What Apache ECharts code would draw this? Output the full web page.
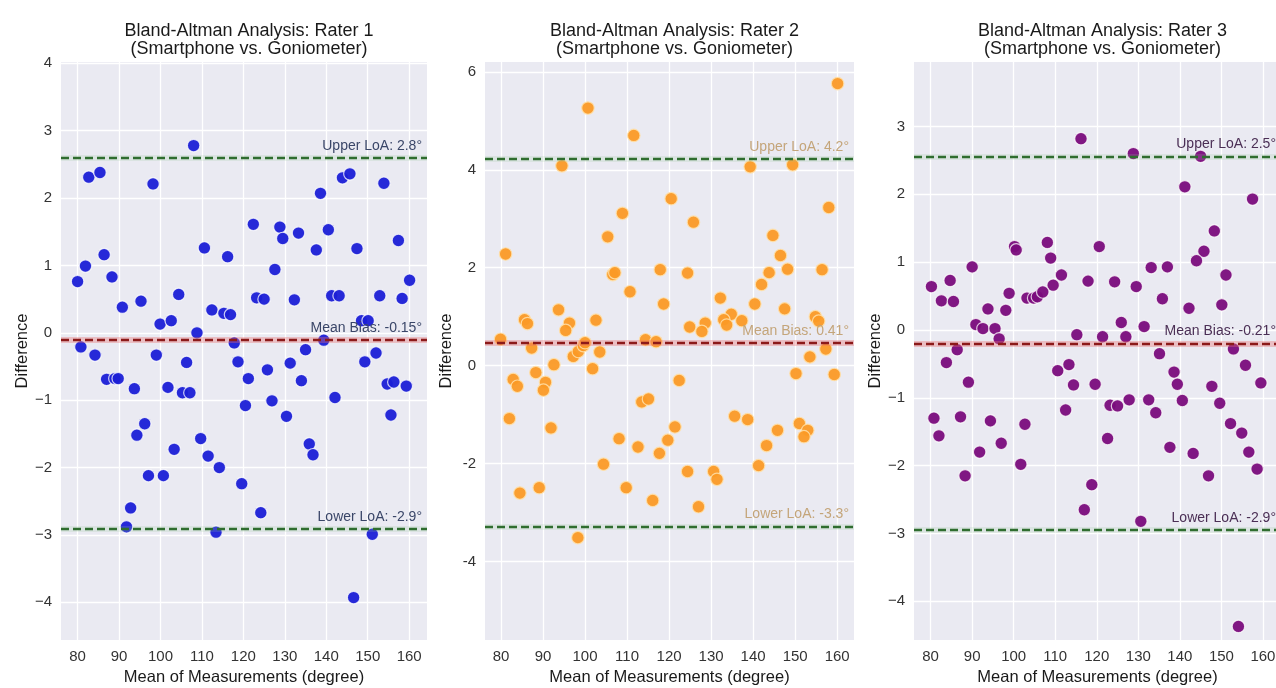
<!DOCTYPE html>
<html>
<head>
<meta charset="utf-8">
<script src="https://cdn.jsdelivr.net/npm/echarts@6/dist/echarts.min.js"></script>
<style>
html,body{margin:0;padding:0;background:#fff;}
#chart{width:1276px;height:688px;}
</style>
</head>
<body>
<div id="chart"></div>
<script>
// ---------- DATA ----------
const xTicks = [80, 90, 100, 110, 120, 130, 140, 150, 160];
const yTicks1 = [-4, -3, -2, -1, 0, 1, 2, 3, 4];
const yTicks2 = [-4, -2, 0, 2, 4, 6];
const yTicks3 = [-4, -3, -2, -1, 0, 1, 2, 3];

const titles = [
  'Bland-Altman Analysis: Rater 1\n(Smartphone vs. Goniometer)',
  'Bland-Altman Analysis: Rater 2\n(Smartphone vs. Goniometer)',
  'Bland-Altman Analysis: Rater 3\n(Smartphone vs. Goniometer)'
];

// [mean, difference]
const rater1Points = [
  [80.0,0.76],[81.9,0.99],[82.7,2.31],[85.4,2.38],[86.4,1.16],[88.3,0.83],[90.8,0.38],[95.3,0.47],
  [98.2,2.21],[99.9,0.13],[102.6,0.18],[104.4,0.57],[108.0,2.78],[108.8,0.0],[110.6,1.26],[112.4,0.34],
  [115.3,0.29],[116.9,0.27],[116.2,1.13],[122.4,1.61],[123.2,0.52],[125.0,0.50],[127.6,0.94],[128.8,1.57],
  [129.5,1.40],[132.3,0.49],[133.3,1.48],[137.6,1.23],[138.6,2.07],[140.5,1.53],[141.3,0.55],[143.1,0.55],
  [143.9,2.30],[145.7,2.36],[147.4,1.25],[148.5,0.18],[150.1,0.18],[152.9,0.55],[153.9,2.22],[157.4,1.37],
  [158.3,0.51],[160.1,0.78],
  [80.8,-0.21],[84.2,-0.33],[87.0,-0.69],[89.0,-0.68],[89.8,-0.68],[93.7,-0.83],[94.3,-1.52],[96.2,-1.35],
  [97.1,-2.12],[92.8,-2.60],[91.8,-2.88],[99.0,-0.33],[100.7,-2.12],[101.8,-0.81],[103.3,-1.73],[106.3,-0.44],
  [105.3,-0.89],[107.1,-0.89],[109.7,-1.57],[111.5,-1.83],[113.4,-2.96],[114.2,-2.00],[117.8,-0.15],[118.7,-0.43],
  [121.2,-0.68],[119.6,-2.24],[120.5,-1.08],[124.2,-2.67],[125.8,-0.55],[126.9,-1.01],[130.4,-1.24],[131.3,-0.45],
  [134.0,-0.71],[135.0,-0.25],[135.9,-1.65],[136.8,-1.81],[139.4,-0.11],[142.1,-0.96],[146.6,-3.93],[149.3,-0.43],
  [152.0,-0.30],[151.1,-2.99],[154.7,-0.76],[156.3,-0.73],[155.6,-1.22],[159.3,-0.79]
];

const rater2Points = [
  [160.1,5.76],[100.7,5.26],[111.6,4.70],[94.5,4.08],[139.3,4.06],[149.4,4.10],[120.5,3.41],[108.9,3.11],
  [158.0,3.23],[125.8,2.93],[105.4,2.63],[144.7,2.66],[81.1,2.28],[146.5,2.25],[117.9,1.96],[124.4,1.89],
  [148.2,1.97],[156.4,1.96],[143.8,1.90],[106.6,1.86],[107.1,1.90],[142.0,1.66],[110.7,1.51],[132.2,1.38],
  [118.7,1.26],[140.4,1.26],[93.7,1.14],[147.5,1.16],[85.6,0.94],[86.3,0.86],[102.6,0.93],[96.3,0.87],
  [95.4,0.72],[134.8,1.05],[133.0,0.94],[133.7,0.83],[137.3,0.92],[124.9,0.79],[128.6,0.87],[127.8,0.70],
  [154.8,1.00],[155.6,0.91],[79.9,0.54],[87.3,0.36],[88.3,-0.14],[92.6,0.02],[97.2,0.19],[98.4,0.29],
  [99.6,0.41],[100.0,0.47],[103.5,0.28],[101.8,-0.06],[114.4,0.53],[116.9,0.49],[82.9,-0.28],[83.9,-0.42],
  [90.6,-0.34],[90.1,-0.50],[122.4,-0.30],[153.5,0.18],[157.3,0.34],[150.2,-0.16],[159.3,-0.18],[113.5,-0.74],
  [115.1,-0.68],
  [82.0,-1.08],[84.5,-2.60],[89.1,-2.49],[91.9,-1.27],[98.3,-3.51],[104.4,-2.01],[108.1,-1.49],[109.8,-2.49],
  [112.6,-1.66],[116.1,-2.75],[117.7,-1.79],[119.7,-1.52],[121.4,-1.25],[124.4,-2.16],[127.0,-2.88],[130.6,-2.16],
  [131.4,-2.32],[135.6,-1.03],[138.7,-1.10],[141.3,-2.04],[143.2,-1.63],[145.8,-1.32],[151.0,-1.18],[153.0,-1.32],
  [152.1,-1.45]
];

const rater3Points = [
  [116.2,2.82],[128.8,2.60],[145.0,2.56],[141.2,2.11],[157.5,1.93],[148.3,1.46],[145.8,1.16],[144.0,1.02],
  [120.6,1.23],[100.2,1.23],[100.6,1.18],[108.1,1.29],[108.9,1.06],[111.5,0.81],[109.5,0.66],[117.9,0.72],
  [124.3,0.71],[129.5,0.64],[133.1,0.92],[137.0,0.93],[151.1,0.81],[135.8,0.46],[142.2,0.32],[150.1,0.37],
  [90.0,0.93],[84.7,0.73],[80.2,0.64],[82.6,0.43],[85.5,0.42],[93.8,0.31],[98.1,0.29],[98.9,0.54],
  [103.2,0.47],[104.8,0.47],[105.7,0.49],[107.0,0.56],[90.9,0.08],[92.6,0.02],[95.5,0.02],[96.5,-0.13],
  [125.9,0.11],[131.4,0.05],[115.2,-0.07],[121.4,-0.10],[127.0,-0.10],
  [86.4,-0.29],[83.8,-0.48],[89.1,-0.77],[152.9,-0.28],[155.8,-0.52],[135.1,-0.35],[138.6,-0.62],[139.4,-0.80],
  [147.7,-0.83],[159.5,-0.78],[110.6,-0.60],[113.3,-0.51],[114.4,-0.81],[119.6,-0.80],
  [80.8,-1.30],[82.0,-1.56],[87.2,-1.28],[88.3,-2.15],[91.8,-1.80],[94.4,-1.34],[97.0,-1.67],[101.7,-1.98],
  [102.7,-1.39],[112.5,-1.18],[117.0,-2.65],[118.8,-2.28],[122.6,-1.60],[123.2,-1.11],[125.0,-1.12],[127.8,-1.03],
  [130.6,-2.82],[132.5,-1.03],[134.2,-1.22],[137.6,-1.73],[140.6,-1.04],[143.2,-1.82],[146.9,-2.15],[149.6,-1.08],
  [152.2,-1.38],[154.9,-1.52],[156.6,-1.80],[158.6,-2.05],[154.1,-4.37]
];

// line positions (upper LoA, mean bias, lower LoA) and their labels
const rater1Lines = [2.6, -0.11, -2.91];
const rater2Lines = [4.22, 0.47, -3.28];
const rater3Lines = [2.56, -0.2, -2.95];
const rater1Labels = ['Upper LoA: 2.8°', 'Mean Bias: -0.15°', 'Lower LoA: -2.9°'];
const rater2Labels = ['Upper LoA: 4.2°', 'Mean Bias: 0.41°', 'Lower LoA: -3.3°'];
const rater3Labels = ['Upper LoA: 2.5°', 'Mean Bias: -0.21°', 'Lower LoA: -2.9°'];

// ---------- LAYOUT / STYLE ----------
const FONT = '"Liberation Sans", Arial, sans-serif';
const panels = [
  {grid:{left:61, width:366}, xr:[76, 164.3], yr:[-4.56, 4.02], yTicks:yTicks1, minus:'\u2212',
   points:rater1Points, lines:rater1Lines, labels:rater1Labels,
   color:'#1b1fd6', border:'rgba(255,255,255,0.8)', labelColor:'#3a4668'},
  {grid:{left:485, width:369}, xr:[76.2, 164], yr:[-5.6, 6.2], yTicks:yTicks2, minus:'-',
   points:rater2Points, lines:rater2Lines, labels:rater2Labels,
   color:'#fb9a26', border:'rgba(255,225,170,0.9)', labelColor:'#c4a57a'},
  {grid:{left:914, width:367}, xr:[76, 164.35], yr:[-4.57, 3.95], yTicks:yTicks3, minus:'\u2212',
   points:rater3Points, lines:rater3Lines, labels:rater3Labels,
   color:'#7a0c7c', border:'rgba(255,255,255,0.8)', labelColor:'#4b2f55'}
];

const option = {
  backgroundColor: '#ffffff',
  animation: false,
  title: [], grid: [], xAxis: [], yAxis: [], series: []
};

panels.forEach((p, i) => {
  option.title.push({
    text: titles[i],
    left: p.grid.left + p.grid.width / 2,
    top: 17,
    textAlign: 'center',
    textStyle: {fontFamily: FONT, fontSize: 18, fontWeight: 'normal', color: '#1a1a1a', lineHeight: 18}
  });
  option.grid.push({
    left: p.grid.left, width: p.grid.width, top: 62, height: 578,
    outerBoundsMode: 'none',
    show: true, backgroundColor: '#eaeaf2', borderWidth: 0, containLabel: false
  });
  option.xAxis.push({
    type: 'value', gridIndex: i, min: p.xr[0], max: p.xr[1],
    name: 'Mean of Measurements (degree)', nameLocation: 'middle', nameGap: 29,
    nameTextStyle: {fontFamily: FONT, fontSize: 16.5, color: '#1a1a1a'},
    axisLine: {show: false},
    axisTick: {show: false, customValues: xTicks},
    axisLabel: {customValues: xTicks, fontFamily: FONT, fontSize: 15, color: '#333', margin: 9},
    splitLine: {show: true, lineStyle: {color: '#ffffff', width: 1.3}}
  });
  option.yAxis.push({
    type: 'value', gridIndex: i, min: p.yr[0], max: p.yr[1],
    name: 'Difference', nameLocation: 'middle', nameGap: 30,
    nameTextStyle: {fontFamily: FONT, fontSize: 16.5, color: '#1a1a1a'},
    axisLine: {show: false},
    axisTick: {show: false, customValues: p.yTicks},
    axisLabel: {customValues: p.yTicks, fontFamily: FONT, fontSize: 15, color: '#333', margin: 9,
      formatter: v => (v < 0 ? p.minus + Math.abs(v) : String(v))},
    splitLine: {show: true, lineStyle: {color: '#ffffff', width: 1.3}}
  });

  const lineColors = ['#2f6d2f', '#8c1a1a', '#2f6d2f'];
  const haloColors = ['rgba(150,200,150,0.18)', 'rgba(235,110,110,0.35)', 'rgba(150,200,150,0.18)'];
  const mlData = [];
  p.lines.forEach((v, k) => {
    mlData.push({yAxis: v, lineStyle: {color: haloColors[k], width: 6, type: 'solid'}, label: {show: false}});
  });
  p.lines.forEach((v, k) => {
    mlData.push({
      yAxis: v,
      lineStyle: {color: lineColors[k], width: 2.4, type: [8, 4]},
      label: {show: true, position: 'insideEndTop', formatter: p.labels[k], distance: 5,
        fontFamily: FONT, fontSize: 14, color: p.labelColor}
    });
  });

  option.series.push({
    type: 'scatter', xAxisIndex: i, yAxisIndex: i,
    data: p.points, symbolSize: 12.5,
    itemStyle: {color: p.color, borderColor: p.border, borderWidth: 1.2, opacity: 0.95},
    markLine: {silent: true, symbol: ['none', 'none'], animation: false, data: mlData},
    z: 3
  });
});

const chart = echarts.init(document.getElementById('chart'), null, {renderer: 'canvas'});
chart.setOption(option);
</script>
</body>
</html>
